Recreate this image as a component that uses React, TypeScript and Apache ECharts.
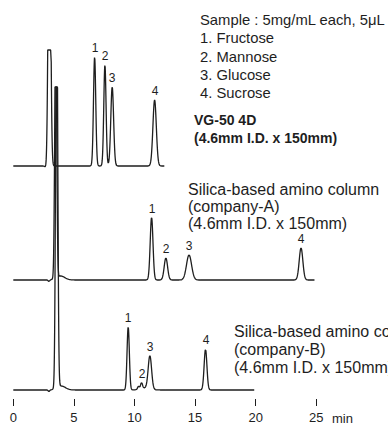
import React, { useEffect, useRef } from "react";
import * as echarts from "echarts";

// ---- Data ----
// Time axis (min)
const X_TICKS_MIN = 0;
const X_TICKS_MAX = 25;
const X_TICK_STEP = 5;
const PEAK_IDS = ["1", "2", "3", "4"];

// Trace offsets (stacked chromatograms, signal units)
const T1_BASE = 233;
const T2_BASE = 119;
const T3_BASE = 9;

// Trace 1: VG-50 4D  (first entries: baseline dip + solvent front)
const T1_TIMES = [2.7, 2.98, 6.71, 7.56, 8.16, 11.66];
const T1_HEIGHTS = [-2, 320, 109, 101, 79, 66];
const T1_SIGMAS = [0.08, 0.1, 0.094, 0.094, 0.116, 0.14];
const T1_SAT = 116;
const T1_END = 12.5;
const T1_ANALYTES = [2, 3, 4, 5];

// Trace 2: Silica-based amino column (company-A)
const T2_TIMES = [2.94, 3.5, 3.9, 11.41, 12.59, 14.5, 23.74];
const T2_HEIGHTS = [-1.5, 260, 4, 62.5, 22, 25, 32];
const T2_SIGMAS = [0.06, 0.08, 0.35, 0.115, 0.14, 0.21, 0.15];
const T2_SAT = 193;
const T2_END = 24.9;
const T2_ANALYTES = [3, 4, 5, 6];

// Trace 3: Silica-based amino column (company-B)
const T3_TIMES = [2.94, 3.58, 3.95, 9.48, 10.33, 10.58, 10.9, 11.27, 15.86];
const T3_HEIGHTS = [-1.5, 420, 4, 63, 3, 6, 2, 33, 40.7];
const T3_SIGMAS = [0.06, 0.085, 0.35, 0.095, 0.07, 0.08, 0.4, 0.14, 0.115];
const T3_SAT = 303;
const T3_END = 19.9;
const T3_ANALYTES = [3, 5, 7, 8];

const SAMPLE_LINES = [
  "Sample : 5mg/mL each, 5μL",
  "1. Fructose",
  "2. Mannose",
  "3. Glucose",
  "4. Sucrose",
];
const T1_TITLE = ["VG-50 4D", "(4.6mm I.D. x 150mm)"];
const T2_TITLE = ["Silica-based amino column", "(company-A)", "(4.6mm I.D. x 150mm)"];
const T3_TITLE = ["Silica-based amino column", "(company-B)", "(4.6mm I.D. x 150mm)"];

const TIME_STEP = 0.01;
const FONT = "'Liberation Sans', Arial, Helvetica, sans-serif";
const INK = "#1e1e1e";

function signalAt(t: number, times: number[], heights: number[], sigmas: number[], sat: number) {
  let s = 0;
  for (let k = 0; k < times.length; k++) {
    const z = (t - times[k]) / sigmas[k];
    s += heights[k] * Math.exp(-0.5 * z * z);
  }
  return Math.min(s, sat);
}

function buildTrace(times: number[], heights: number[], sigmas: number[], sat: number, end: number, base: number) {
  const pts: number[][] = [];
  const n = Math.round(end / TIME_STEP);
  for (let i = 0; i <= n; i++) {
    const t = i * TIME_STEP;
    pts.push([t, base + signalAt(t, times, heights, sigmas, sat)]);
  }
  return pts;
}

function buildLabels(times: number[], heights: number[], sigmas: number[], sat: number, base: number, idx: number[]) {
  return idx.map((k) => [times[k], base + signalAt(times[k], times, heights, sigmas, sat)]);
}

function textBlock(lines: string[], x: number, y0: number, dy: number, size: number, weight: string) {
  return lines.map((s, i) => ({
    type: "text",
    x,
    y: y0 + i * dy,
    silent: true,
    style: {
      text: s,
      fill: INK,
      fontSize: size,
      fontFamily: FONT,
      fontWeight: weight,
      verticalAlign: "middle",
      align: "left",
    },
  }));
}

export default function App() {
  const ref = useRef<HTMLDivElement>(null);
  useEffect(() => {
    if (!ref.current) return;
    const chart = echarts.init(ref.current, null, { renderer: "svg" });
    const lineSeries = (data: number[][]) => ({
      type: "line",
      data,
      showSymbol: false,
      symbol: "none",
      silent: true,
      color: INK,
      lineStyle: { color: INK, width: 1.3 },
      z: 2,
    });
    const labelSeries = (data: number[][]) => ({
      type: "custom",
      data,
      silent: true,
      z: 3,
      renderItem: (params: any, api: any) => {
        const p = api.coord([api.value(0), api.value(1)]);
        return {
          type: "text",
          x: Math.round(p[0]),
          y: Math.round(p[1] - 3),
          style: {
            text: PEAK_IDS[params.dataIndex],
            fill: INK,
            fontSize: 12,
            fontFamily: FONT,
            align: "center",
            verticalAlign: "bottom",
          },
        };
      },
    });
    chart.setOption({
      animation: false,
      color: [INK],
      grid: { left: 13.3, width: 303, top: 0, height: 399 },
      xAxis: {
        type: "value",
        min: X_TICKS_MIN,
        max: X_TICKS_MAX,
        interval: X_TICK_STEP,
        axisLine: { show: false },
        axisTick: { show: true, length: 7, lineStyle: { color: INK, width: 1 } },
        axisLabel: { fontSize: 13, margin: 12, color: INK, fontFamily: FONT },
        splitLine: { show: false },
      },
      yAxis: {
        type: "value",
        min: 0,
        max: 399,
        show: false,
      },
      series: [
        lineSeries(buildTrace(T1_TIMES, T1_HEIGHTS, T1_SIGMAS, T1_SAT, T1_END, T1_BASE)),
        lineSeries(buildTrace(T2_TIMES, T2_HEIGHTS, T2_SIGMAS, T2_SAT, T2_END, T2_BASE)),
        lineSeries(buildTrace(T3_TIMES, T3_HEIGHTS, T3_SIGMAS, T3_SAT, T3_END, T3_BASE)),
        labelSeries(buildLabels(T1_TIMES, T1_HEIGHTS, T1_SIGMAS, T1_SAT, T1_BASE, T1_ANALYTES)),
        labelSeries(buildLabels(T2_TIMES, T2_HEIGHTS, T2_SIGMAS, T2_SAT, T2_BASE, T2_ANALYTES)),
        labelSeries(buildLabels(T3_TIMES, T3_HEIGHTS, T3_SIGMAS, T3_SAT, T3_BASE, T3_ANALYTES)),
      ],
      graphic: [
        ...textBlock(SAMPLE_LINES, 200, 20, 18.3, 14.8, "normal"),
        ...textBlock(T1_TITLE, 194, 120, 18, 14, "bold"),
        ...textBlock(T2_TITLE, 188, 189, 17, 16, "normal"),
        ...textBlock(T3_TITLE, 234, 331, 18, 16, "normal"),
        {
          type: "text",
          x: 332,
          y: 418,
          silent: true,
          style: { text: "min", fill: INK, fontSize: 13, fontFamily: FONT, verticalAlign: "middle" },
        },
      ],
    });
    return () => chart.dispose();
  }, []);
  return (
    <div
      ref={ref}
      style={{ position: "fixed", left: 0, top: 0, width: 388, height: 426, background: "#fff" }}
    />
  );
}
